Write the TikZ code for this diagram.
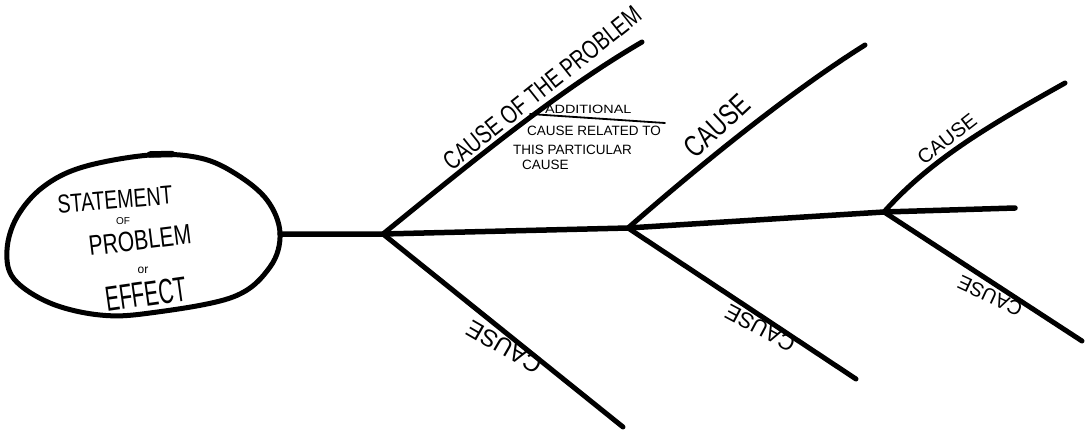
\documentclass[tikz,border=0pt]{standalone}
\usepackage{fontspec}
\setmainfont{Liberation Sans}
\newfontfamily\handA{Liberation Sans}
\newfontfamily\handB[FakeStretch=0.75]{Liberation Sans}
\newfontfamily\handC[FakeStretch=0.6]{Liberation Sans}
\newfontfamily\handW[FakeStretch=1.2]{Liberation Sans}
\newcommand\fsz[1]{\fontsize{#1}{#1}\selectfont}
\begin{document}
\begin{tikzpicture}[x=1pt,y=-1pt,
  bone/.style={line width=5pt,line cap=round,line join=round},
  spine/.style={line width=5.5pt,line cap=round,line join=round},
  rim/.style={line width=5pt,line join=round},
  thinline/.style={line width=1.8pt,line cap=round},
  lbl/.style={inner sep=0pt,outer sep=0pt},
]
\useasboundingbox (0,0) rectangle (1086,431);
% head
\draw[rim] plot[smooth cycle, tension=0.6] coordinates {
  (150,155) (200,158) (236,174) (267,200) (280,233) (270,267) (233,297)
  (150,313) (100,315) (50,303) (14,279) (7,250) (17,217) (43,187) (83,167)};
\draw[line width=6.5pt,line cap=round] (150,154.5) -- (172,154);
\coordinate (headR) at (280,234);
% spine
\coordinate (j1) at (383,234);
\coordinate (j2) at (628,228);
\coordinate (j3) at (884,212);
\coordinate (tail) at (1015,208);
\draw[spine] (headR) -- (j1) -- (j2) -- (j3) -- (tail);
% upper bones
\coordinate (u1) at (642,42);
\coordinate (u2) at (865,45);
\coordinate (u3) at (1065,83);
\draw[bone] (j1) .. controls (480,155) and (560,90) .. (u1);
\draw[bone] (j2) .. controls (700,165) and (790,92) .. (u2);
\draw[bone] (j3) .. controls (930,160) and (990,125) .. (u3);
% lower bones
\coordinate (d1) at (623,427);
\coordinate (d2) at (856,379);
\coordinate (d3) at (1082,341);
\draw[bone] (j1) -- (d1);
\draw[bone] (j2) -- (d2);
\draw[bone] (j3) -- (d3);
% sub cause line
\coordinate (u0) at (530,114);
\coordinate (ue) at (665,123);
\draw[thinline] (u0) -- (ue);
% head text
\node[lbl, rotate=5, font=\handB\fsz{26}] (t1) at (115,200) {STATEMENT};
\node[lbl, font=\handA\fsz{10}] (t2) at (123,221) {OF};
\node[lbl, rotate=7, font=\handB\fsz{28}] (t3) at (140,240) {PROBLEM};
\node[lbl, font=\handA\fsz{12}] (t4) at (143,270) {or};
\node[lbl, rotate=8, font=\handC\fsz{35}] (t5) at (146,294) {EFFECT};
% cause labels
\node[lbl, rotate=38.5, font=\handB\fsz{26}] (c1) at (542,88) {CAUSE OF THE PROBLEM};
\node[lbl, rotate=43, font=\handB\fsz{30}] (c2) at (717,126) {CAUSE};
\node[lbl, rotate=38, font=\handA\fsz{20}] (c3) at (947,139) {CAUSE};
\node[lbl, rotate=150, font=\handA\fsz{24}] (c4) at (504,347) {CAUSE};
\node[lbl, rotate=152, font=\handA\fsz{22}] (c5) at (760,328) {CAUSE};
\node[lbl, rotate=155, font=\handA\fsz{20}] (c6) at (990,296) {CAUSE};
% note
\node[lbl, anchor=base west, font=\handW\fsz{12}] (n1) at (545,113) {ADDITIONAL};
\node[lbl, anchor=base west, font=\handA\fsz{13.5}] (n2) at (527,135) {CAUSE RELATED TO};
\node[lbl, anchor=base west, font=\handA\fsz{13.5}] (n3) at (513,154) {THIS PARTICULAR};
\node[lbl, anchor=base west, font=\handA\fsz{13.5}] (n4) at (522,169) {CAUSE};
\end{tikzpicture}
\end{document}
